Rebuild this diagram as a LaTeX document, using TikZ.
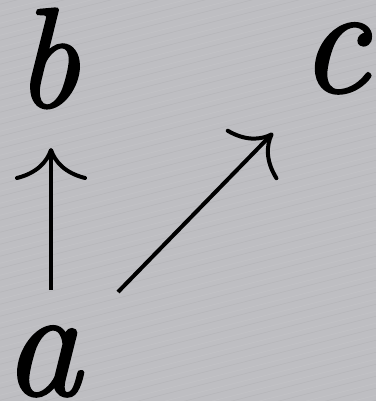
\documentclass[tikz,border=0pt]{standalone}
\usepackage{fontspec}
\newfontfamily\letterfont[FakeBold=1.6]{Latin Modern Roman}
\usetikzlibrary{arrows.meta,calc}
\definecolor{bggray}{RGB}{190,190,194}
\begin{document}
\begin{tikzpicture}[x=1pt,y=-1pt,
  letter/.style={inner sep=0pt,outer sep=0pt,anchor=base,font=\letterfont\fontsize{142}{142}\selectfont\itshape},
  small letter/.style={letter,font=\letterfont\fontsize{156}{156}\selectfont\itshape},
  arr/.style={line width=4pt,-{Computer Modern Rightarrow[length=32pt,width=72pt,line width=4pt]}}]
\useasboundingbox (0,0) rectangle (376,401);
\fill[bggray] (0,0) rectangle (376,401);
\begin{scope}
\clip (0,0) rectangle (376,401);
\foreach \i in {0,...,45}{
  \draw[white,opacity=0.07,line width=0.7pt] (-50,{\i*12}) -- (420,{\i*12-120});
}
\foreach \i in {0,...,45}{
  \draw[black,opacity=0.04,line width=0.6pt] (-50,{\i*12+5}) -- (420,{\i*12-115});
}
\end{scope}
\node[letter] (b) at (47,107) {b};
\node[small letter] (c) at (334,92) {c};
\node[small letter] (a) at (42,395) {a};
\draw[arr] ($(a.base)+(9,-105)$) -- ($(b.base)+(4,41)$);
\draw[arr] ($(a.base)+(76,-103)$) -- ($(c.base)+(-61,41)$);
\end{tikzpicture}
\end{document}
